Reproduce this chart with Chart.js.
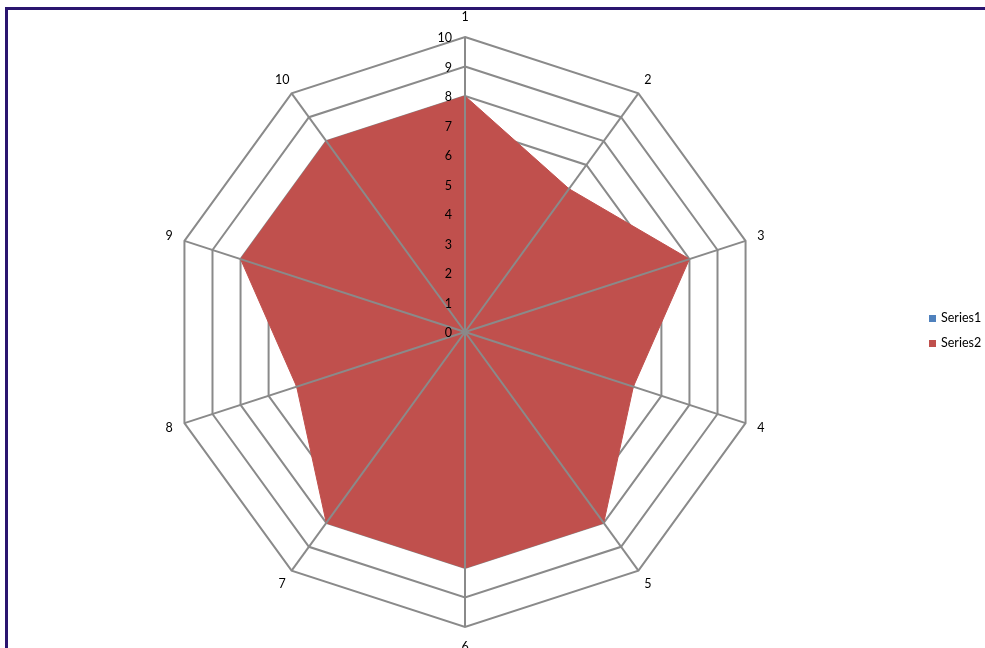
<!DOCTYPE html>
<html>
<head>
<meta charset="utf-8">
<script src="https://cdn.jsdelivr.net/npm/chart.js@4/dist/chart.umd.min.js"></script>
<style>
  html, body { margin: 0; padding: 0; background: #fff; overflow: hidden; }
  #wrap { position: relative; width: 985px; height: 648px; }
  #frame { position: absolute; left: 5px; top: 7px; width: 990px; height: 660px;
           border-left: 3px solid #2a156f; border-top: 3px solid #2a156f; }
  #myChart { position: absolute; left: 0; top: 0; }
  #legend { position: absolute; left: 929px; top: 310px; font-family: Lato, "Open Sans", sans-serif; font-size: 12.5px; color: #000; }
  .item { height: 25px; line-height: 16px; white-space: nowrap; }
  .box { display: inline-block; width: 7px; height: 7px; margin-right: 5px; vertical-align: 0px; }
</style>
</head>
<body>
<div id="wrap">
  <div id="frame"></div>
  <canvas id="myChart" width="985" height="648"></canvas>
  <div id="legend"></div>
</div>
<script>
// categories round the radar
var categories = ["1", "2", "3", "4", "5", "6", "7", "8", "9", "10"];
// series values
var series1 = [0, 0, 0, 0, 0, 0, 0, 0, 0, 0];
var series2 = [8, 6, 8, 6, 8, 8, 8, 6, 8, 8];
// tick labels on the top axis
var tickValues = [0, 1, 2, 3, 4, 5, 6, 7, 8, 9, 10];

var gridColor = '#8a8a8a';
var fontFamily = 'Lato, "Open Sans", sans-serif';

// Excel draws the spokes over the filled area, so draw them (and labels) after the datasets
var overlay = {
  id: 'overlay',
  afterDatasetsDraw: function(chart) {
    var scale = chart.scales.r;
    var ctx = chart.ctx;
    var outer = scale.getDistanceFromCenterForValue(scale.max);
    ctx.save();
    ctx.strokeStyle = gridColor;
    ctx.lineWidth = 2;
    for (var i = 0; i < categories.length; i++) {
      var p = scale.getPointPosition(i, outer);
      ctx.beginPath();
      ctx.moveTo(scale.xCenter, scale.yCenter);
      ctx.lineTo(p.x, p.y);
      ctx.stroke();
    }
    ctx.font = '12.5px ' + fontFamily;
    ctx.fillStyle = '#000';
    // point labels
    ctx.textAlign = 'center';
    ctx.textBaseline = 'middle';
    for (var j = 0; j < categories.length; j++) {
      var off = (j % 5 === 0) ? 20 : 16;
      var q = scale.getPointPosition(j, outer + off);
      ctx.fillText(categories[j], q.x, q.y);
    }
    // tick labels, left of the top spoke
    ctx.textAlign = 'right';
    tickValues.forEach(function(v) {
      var y = scale.yCenter - scale.getDistanceFromCenterForValue(v);
      ctx.fillText(String(v), scale.xCenter - 13, y + 1);
    });
    ctx.restore();
  }
};

var ctx = document.getElementById('myChart').getContext('2d');
var chart = new Chart(ctx, {
    type: 'radar',
    data: {
        labels: categories,
        datasets: [{
            label: "Series1",
            data: series1,
            backgroundColor: '#4f81bd',
            borderColor: '#4f81bd',
            borderWidth: 0,
            pointRadius: 0,
            fill: true
        }, {
            label: "Series2",
            data: series2,
            backgroundColor: '#c0504d',
            borderColor: '#c0504d',
            borderWidth: 1,
            pointRadius: 0,
            fill: true
        }]
    },
    options: {
      responsive: false,
      animation: false,
      layout: { padding: { left: 0, right: 55, top: 37, bottom: 21 } },
      plugins: {
        legend: { display: false },
        tooltip: { enabled: false }
      },
      elements: { line: { tension: 0 } },
      scales: {
        r: {
          min: 0,
          max: 10,
          ticks: { display: false, stepSize: 1 },
          pointLabels: { display: false },
          angleLines: { display: false },
          grid: { color: gridColor, lineWidth: 2, circular: false }
        }
      }
    },
    plugins: [overlay]
});

// legend in html, built from the datasets
var leg = document.getElementById('legend');
chart.data.datasets.forEach(function(ds) {
  var d = document.createElement('div');
  d.className = 'item';
  d.innerHTML = '<span class="box" style="background:' + ds.backgroundColor + '"></span>' + ds.label;
  leg.appendChild(d);
});
</script>
</body>
</html>
